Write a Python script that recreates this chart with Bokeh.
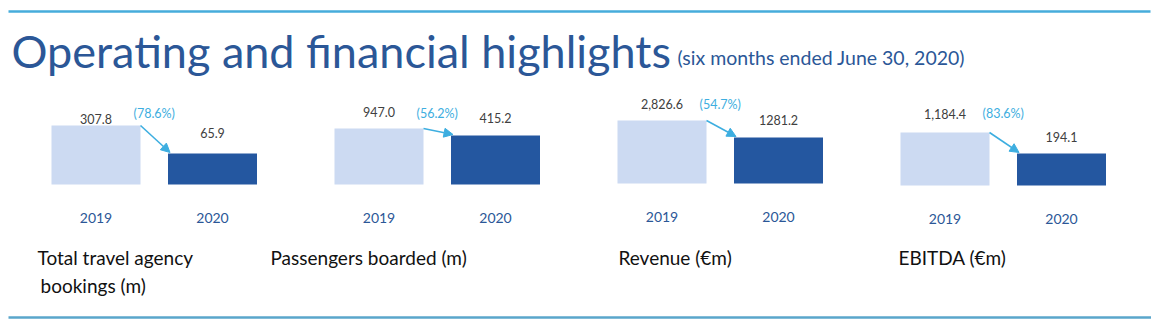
from bokeh.plotting import figure
from bokeh.layouts import column, row
from bokeh.models import Range1d, Arrow, NormalHead
from bokeh.core.properties import value
from bokeh.embed import file_html
from bokeh.resources import INLINE

# ---------------- data ----------------
years = ["2019", "2020"]
metric_titles = ["Total travel agency\n bookings (m)", "Passengers boarded (m)",
                 "Revenue (\u20acm)", "EBITDA (\u20acm)"]
values_2019 = [307.8, 947.0, 2826.6, 1184.4]
values_2020 = [65.9, 415.2, 1281.2, 194.1]
labels_2019 = ["307.8", "947.0", "2,826.6", "1,184.4"]
labels_2020 = ["65.9", "415.2", "1281.2", "194.1"]
change_labels = ["(78.6%)", "(56.2%)", "(54.7%)", "(83.6%)"]
title_text = "Operating and financial highlights"
subtitle_text = "(six months ended June 30, 2020)"

# ---------------- style / layout ----------------
FONT = "Lato"
TITLE_BLUE = "#2B5797"
LIGHT_BAR = "#CCDAF2"
DARK_BAR = "#2457A0"
ARROW_BLUE = "#3DAEE0"
RULE_BLUE = "#46ACDB"
W_TOTAL = 1151
PANEL_W = 283
PANEL_H = 140
HEADER_H = 90
FOOTER_H = 97
PX_PER_UNIT = 116.5          # horizontal pixels per category step
FIRST_CENTER_PX = 95.5       # first bar centre inside a panel
BAR_W = 89 / PX_PER_UNIT
# panel-specific vertical scales (value units per pixel) and bar floor (value at bar bottom)
floor_val = [-202.0, -3307.0, -2900.0, -1315.0]
units_per_px = [8.64, 76.0, 90.9, 47.16]
floor_px_from_top = [94, 94, 93, 95]
label_gap_2019 = [6, 17, 17, 19]
label_gap_2020 = [20, 18, 18, 17]
change_gap = [12, 15, 16, 19]
title_left_px = [37, 270, 618, 898]
title_line_px = [27, 55]


def blank(width, height, xr, yr):
    f = figure(width=width, height=height, x_range=xr, y_range=yr,
               output_backend="svg", toolbar_location=None,
               min_border=0, outline_line_color=None)
    f.axis.visible = False
    f.grid.visible = False
    f.background_fill_color = "white"
    f.border_fill_color = "white"
    return f


# ---------------- header ----------------
header = blank(W_TOTAL, HEADER_H, Range1d(0, W_TOTAL), Range1d(HEADER_H, 0))
header.segment(x0=[8], y0=[11], x1=[1150], y1=[11], line_color=RULE_BLUE, line_width=2.5)
header.text(x=[11], y=[50], text=[title_text], text_font=value(FONT),
            text_font_size="45px", text_color=TITLE_BLUE, text_baseline="middle")
header.text(x=[677], y=[57], text=[subtitle_text], text_font=value(FONT),
            text_font_size="19.5px", text_color=TITLE_BLUE, text_baseline="middle")

# ---------------- panels ----------------
panels = []
xs = list(range(len(years)))
x0 = -FIRST_CENTER_PX / PX_PER_UNIT
x1 = x0 + PANEL_W / PX_PER_UNIT
for i in range(len(metric_titles)):
    u = units_per_px[i]
    fl = floor_val[i]
    below = PANEL_H - floor_px_from_top[i]
    yr = Range1d(fl - below * u, fl + floor_px_from_top[i] * u)
    p = blank(PANEL_W, PANEL_H, Range1d(x0, x1), yr)
    vals = [values_2019[i], values_2020[i]]
    p.vbar(x=xs, top=vals, bottom=fl, width=BAR_W,
           fill_color=[LIGHT_BAR, DARK_BAR], line_color=None)
    # value labels
    p.text(x=[0], y=[values_2019[i]], text=[labels_2019[i]], y_offset=-label_gap_2019[i],
           text_font=value(FONT), text_font_size="12.5px", text_color="#404040",
           text_align="center", text_baseline="middle")
    p.text(x=[1], y=[values_2020[i]], text=[labels_2020[i]], y_offset=-label_gap_2020[i],
           text_font=value(FONT), text_font_size="12.5px", text_color="#404040",
           text_align="center", text_baseline="middle")
    # change label
    p.text(x=[0.5], y=[values_2019[i]], text=[change_labels[i]], y_offset=-change_gap[i],
           text_font=value(FONT), text_font_size="12.5px", text_color=ARROW_BLUE,
           text_align="center", text_baseline="middle")
    # year labels
    p.text(x=xs, y=[fl, fl], text=years, y_offset=33,
           text_font=value(FONT), text_font_size="14px", text_color=TITLE_BLUE,
           text_align="center", text_baseline="middle")
    # arrow
    p.add_layout(Arrow(x_start=BAR_W / 2, y_start=values_2019[i],
                       x_end=1 - BAR_W / 2 + 2 / PX_PER_UNIT, y_end=values_2020[i] + u,
                       line_color=ARROW_BLUE, line_width=1.6,
                       end=NormalHead(size=9, fill_color=ARROW_BLUE, line_color=ARROW_BLUE)))
    panels.append(p)

# ---------------- footer (metric titles + rule) ----------------
footer = blank(W_TOTAL, FOOTER_H, Range1d(0, W_TOTAL), Range1d(FOOTER_H, 0))
tx, ty, tt = [], [], []
for left, title in zip(title_left_px, metric_titles):
    for k, line in enumerate(title.split("\n")):
        stripped = line.lstrip(" ")
        tx.append(left + 3 * (len(line) - len(stripped)))
        ty.append(title_line_px[k])
        tt.append(stripped)
footer.text(x=tx, y=ty, text=tt, text_font=value(FONT),
            text_font_size="19px", text_color="#111111", text_baseline="middle")
footer.segment(x0=[8], y0=[87], x1=[1151], y1=[87], line_color="#5AA6CB", line_width=2.5)

layout = column(header, row(*panels, spacing=0), footer, spacing=0)
open("out.html", "w").write(file_html(layout, INLINE))
